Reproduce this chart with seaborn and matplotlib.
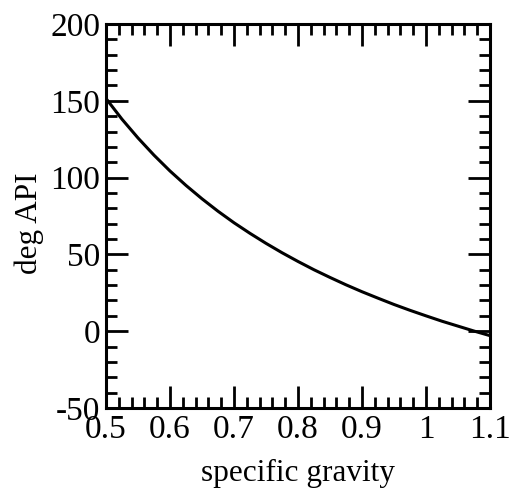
import matplotlib
matplotlib.use("Agg")
import matplotlib.pyplot as plt
import seaborn as sns
import pandas as pd
from matplotlib.ticker import MultipleLocator

sns.set_style("ticks")
plt.rcParams["font.family"] = ["Liberation Serif", "DejaVu Serif"]

specific_gravity = [0.500, 0.525, 0.550, 0.575, 0.600, 0.625, 0.650, 0.675, 0.700,
                    0.725, 0.750, 0.775, 0.800, 0.825, 0.850, 0.875, 0.900, 0.925,
                    0.950, 0.975, 1.000, 1.025, 1.050, 1.075, 1.100]
deg_api = [151.5, 138.0, 125.8, 114.6, 104.3, 94.9, 86.2, 78.1, 70.6,
           63.7, 57.2, 51.1, 45.4, 40.0, 35.0, 30.2, 25.7, 21.5,
           17.4, 13.6, 10.0, 6.5, 3.3, 0.1, -2.9]

df = pd.DataFrame({"sg": specific_gravity, "api": deg_api})

fig = plt.figure(figsize=(5.13, 4.90), dpi=100)
ax = fig.add_axes([106 / 513, 1 - 408 / 490, 384 / 513, 384 / 490])

sns.lineplot(data=df, x="sg", y="api", ax=ax, color="black", linewidth=2.2)

ax.set_xlim(0.5, 1.1)
ax.set_ylim(-50, 200)
ax.xaxis.set_minor_locator(MultipleLocator(0.02))
ax.yaxis.set_minor_locator(MultipleLocator(10))
ax.set_xticks([0.5, 0.6, 0.7, 0.8, 0.9, 1.0, 1.1])
ax.set_xticklabels(["0.5", "0.6", "0.7", "0.8", "0.9", "1", "1.1"])
ax.set_yticks([-50, 0, 50, 100, 150, 200])
ax.set_yticklabels(["-50", "0", "50", "100", "150", "200"])

ax.tick_params(which="both", direction="in", top=True, right=True,
               colors="black", labelcolor="black", labelsize=24, width=2)
ax.tick_params(which="major", length=16)
ax.tick_params(which="minor", length=8)
ax.tick_params(axis="x", which="major", pad=5)
ax.tick_params(axis="y", which="major", pad=4)
for s in ax.spines.values():
    s.set_linewidth(2.2)
    s.set_color("black")

ax.set_xlabel("specific gravity", fontsize=22.5, labelpad=10, color="black")
ax.set_ylabel("deg API", fontsize=22.5, labelpad=5, color="black")
ax.yaxis.label.set_y(0.48)

fig.savefig("out.png", dpi=100, facecolor="white")
